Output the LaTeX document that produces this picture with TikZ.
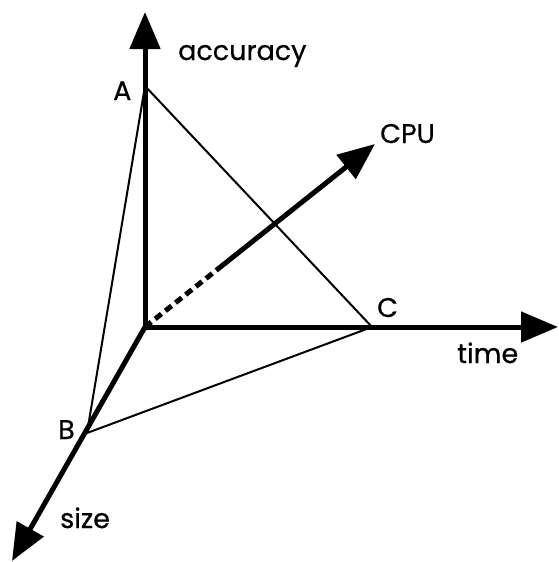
\documentclass[tikz,border=0pt]{standalone}
\usepackage{fontspec}
\setmainfont{Poppins}[FakeBold=0.6,AutoFakeBold=0.6]
\usetikzlibrary{arrows.meta,calc}

\begin{document}
\begin{tikzpicture}[x=1pt,y=-1pt,
axis/.style={line width=5pt},
axarr/.style={axis,-{Triangle[length=37pt,width=30pt]}},
edge/.style={line width=2pt},
lbl/.style={font=\fontsize{27}{30}\selectfont\bfseries,inner sep=0pt,anchor=base west}]
\useasboundingbox (0,0) rectangle (559,562);
% axes
\coordinate (O) at (145,327);
\coordinate (acc) at (145,12);
\coordinate (tim) at (558,327);
\coordinate (siz) at (12,561);
\coordinate (cpu) at (375,144);
\coordinate (hid) at ($(O)!0.31!(cpu)$);
% points on the axes
\coordinate (A) at (145,86);
\coordinate (B) at (87,433);
\coordinate (C) at (372,327);
\draw[edge] (A)--(B)--(C)--cycle;
\draw[axarr] (O)--(acc);
\draw[axarr] (O)--(tim);
\draw[axarr] (O)--(siz);
\draw[axis,dash pattern=on 8pt off 5pt] (O)--(hid);
\draw[axarr] (hid)--(cpu);
% labels
\node[lbl] (laccuracy) at (178,60) {accuracy};
\node[lbl] (lcpu) at (380,143) {CPU};
\node[lbl] (ltime) at (457,363) {time};
\node[lbl] (lsize) at (60,528) {size};
\node[lbl] (la) at (113,100) {A};
\node[lbl] (lb) at (58,439) {B};
\node[lbl] (lc) at (377,317) {C};
\end{tikzpicture}
\end{document}
